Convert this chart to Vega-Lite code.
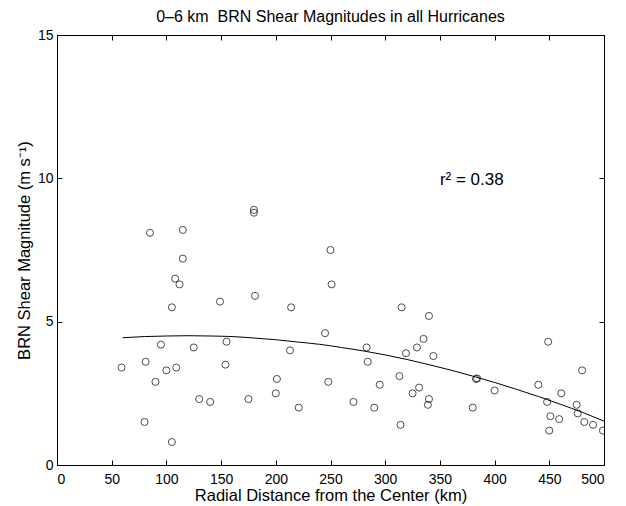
{
  "$schema": "https://vega.github.io/schema/vega-lite/v6.json",
  "autosize": "none",
  "width": 547,
  "height": 430,
  "padding": {"left": 57, "top": 35, "right": 22, "bottom": 41},
  "background": "white",
  "config": {
    "font": "Liberation Sans",
    "view": {"stroke": "black", "strokeWidth": 1},
    "axis": {"domainColor": "black", "tickColor": "black", "labelColor": "black", "titleColor": "black", "grid": false, "labelFont": "Liberation Sans", "titleFont": "Liberation Sans", "labelFontSize": 14, "titleFontSize": 16.5, "titleFontWeight": "normal", "tickSize": -5}
  },
  "title": {"text": "0–6 km\u00a0 BRN Shear Magnitudes in all Hurricanes", "fontSize": 16, "fontWeight": "normal", "font": "Liberation Sans", "color": "black", "offset": 3, "anchor": "middle"},
  "datasets": {
    "pts": [
      {"r": 180, "s": 8.9}, {"r": 180, "s": 8.8}, {"r": 85, "s": 8.1}, {"r": 115, "s": 8.2}, {"r": 115, "s": 7.2},
      {"r": 108, "s": 6.5}, {"r": 112, "s": 6.3}, {"r": 105, "s": 5.5}, {"r": 149, "s": 5.7}, {"r": 181, "s": 5.9},
      {"r": 95, "s": 4.2}, {"r": 125, "s": 4.1}, {"r": 155, "s": 4.3}, {"r": 59, "s": 3.4}, {"r": 81, "s": 3.6},
      {"r": 100, "s": 3.3}, {"r": 109, "s": 3.4}, {"r": 154, "s": 3.5}, {"r": 90, "s": 2.9}, {"r": 130, "s": 2.3},
      {"r": 140, "s": 2.2}, {"r": 175, "s": 2.3}, {"r": 80, "s": 1.5}, {"r": 105, "s": 0.8},
      {"r": 250, "s": 7.5}, {"r": 251, "s": 6.3}, {"r": 214, "s": 5.5}, {"r": 315, "s": 5.5}, {"r": 340, "s": 5.2},
      {"r": 245, "s": 4.6}, {"r": 213, "s": 4.0}, {"r": 283, "s": 4.1}, {"r": 335, "s": 4.4}, {"r": 329, "s": 4.1},
      {"r": 319, "s": 3.9}, {"r": 344, "s": 3.8}, {"r": 284, "s": 3.6}, {"r": 201, "s": 3.0}, {"r": 200, "s": 2.5},
      {"r": 221, "s": 2.0}, {"r": 248, "s": 2.9}, {"r": 271, "s": 2.2}, {"r": 295, "s": 2.8}, {"r": 290, "s": 2.0},
      {"r": 313, "s": 3.1}, {"r": 331, "s": 2.7}, {"r": 325, "s": 2.5}, {"r": 340, "s": 2.3}, {"r": 339, "s": 2.1},
      {"r": 314, "s": 1.4},
      {"r": 449, "s": 4.3}, {"r": 480, "s": 3.3}, {"r": 383, "s": 3.0}, {"r": 384, "s": 3.02}, {"r": 400, "s": 2.6},
      {"r": 440, "s": 2.8}, {"r": 461, "s": 2.5}, {"r": 380, "s": 2.0}, {"r": 448, "s": 2.2}, {"r": 475, "s": 2.1},
      {"r": 476, "s": 1.8}, {"r": 451, "s": 1.7}, {"r": 459, "s": 1.6}, {"r": 482, "s": 1.5}, {"r": 490, "s": 1.4},
      {"r": 450, "s": 1.2}, {"r": 499, "s": 1.2}
    ],
    "fit": [
      {"r": 60, "s": 4.44}, {"r": 80, "s": 4.48}, {"r": 100, "s": 4.50}, {"r": 120, "s": 4.51}, {"r": 140, "s": 4.50},
      {"r": 160, "s": 4.48}, {"r": 180, "s": 4.43}, {"r": 200, "s": 4.37}, {"r": 220, "s": 4.29}, {"r": 240, "s": 4.21},
      {"r": 260, "s": 4.10}, {"r": 280, "s": 3.98}, {"r": 300, "s": 3.84}, {"r": 320, "s": 3.68}, {"r": 340, "s": 3.50},
      {"r": 360, "s": 3.31}, {"r": 380, "s": 3.10}, {"r": 400, "s": 2.88}, {"r": 420, "s": 2.64}, {"r": 440, "s": 2.39},
      {"r": 460, "s": 2.12}, {"r": 480, "s": 1.84}, {"r": 500, "s": 1.53}
    ],
    "ann": [{"r": 350, "s": 9.95, "t": "r² = 0.38"}]
  },
  "layer": [
    {
      "data": {"name": "pts"},
      "mark": {"type": "point", "shape": "circle", "filled": false, "stroke": "black", "strokeWidth": 1, "size": 50, "clip": true},
      "encoding": {
        "x": {"field": "r", "type": "quantitative", "scale": {"domain": [0, 500], "nice": false, "zero": false},
              "axis": {"orient": "bottom", "values": [0, 50, 100, 150, 200, 250, 300, 350, 400, 450, 500], "labelPadding": 12, "title": "Radial Distance from the Center (km)", "titlePadding": 1}},
        "y": {"field": "s", "type": "quantitative", "scale": {"domain": [0, 15], "nice": false},
              "axis": {"orient": "left", "values": [0, 5, 10, 15], "labelPadding": 9, "title": "BRN Shear Magnitude (m s⁻¹)", "titlePadding": 5}}
      }
    },
    {
      "data": {"name": "fit"},
      "mark": {"type": "line", "color": "black", "strokeWidth": 1, "interpolate": "monotone"},
      "encoding": {
        "x": {"field": "r", "type": "quantitative", "scale": {"domain": [0, 500], "nice": false, "zero": false},
              "axis": {"orient": "top", "values": [0, 50, 100, 150, 200, 250, 300, 350, 400, 450, 500], "labels": false, "title": null}},
        "y": {"field": "s", "type": "quantitative", "scale": {"domain": [0, 15], "nice": false},
              "axis": {"orient": "right", "values": [0, 5, 10, 15], "labels": false, "title": null}}
      }
    },
    {
      "data": {"name": "ann"},
      "mark": {"type": "text", "align": "left", "baseline": "middle", "fontSize": 17, "font": "Liberation Sans", "color": "black"},
      "encoding": {
        "x": {"field": "r", "type": "quantitative", "axis": null},
        "y": {"field": "s", "type": "quantitative", "axis": null},
        "text": {"field": "t"}
      }
    }
  ],
  "resolve": {"axis": {"x": "independent", "y": "independent"}}
}
